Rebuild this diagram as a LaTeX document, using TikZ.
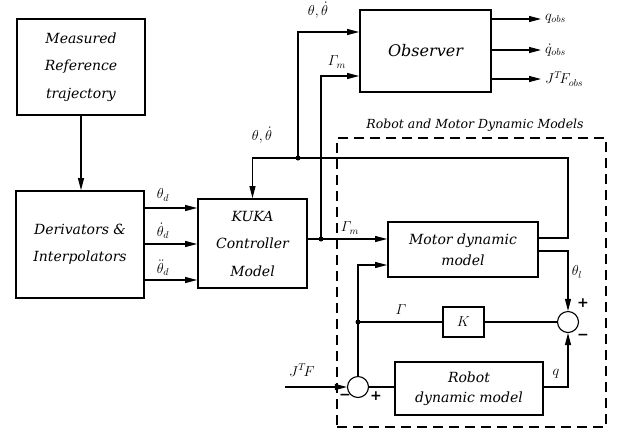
\documentclass[tikz,border=0pt]{standalone}
\usepackage{amsmath}
\usepackage{fontspec}
\setmainfont{DejaVu Serif}
\usetikzlibrary{arrows.meta,calc}
\begin{document}
\begin{tikzpicture}[x=1pt,y=-1pt,
 blk/.style={draw,line width=1.8pt,inner sep=0pt,align=center,font=\itshape\fontsize{14}{27.5}\selectfont},
 sig/.style={line width=1.1pt},
 arr/.style={sig,-{Triangle[length=12pt,width=6pt]}},
 sumc/.style={draw,circle,line width=1.1pt,minimum size=21pt,inner sep=0pt},
 jdot/.style={circle,fill,inner sep=0pt,minimum size=5pt},
 lbl/.style={font=\fontsize{14}{16}\selectfont,inner sep=1pt},
 sgn/.style={font=\bfseries\fontsize{14}{14}\selectfont,inner sep=0pt}]
\useasboundingbox (0,0) rectangle (618,432);

% blocks
\node[blk,minimum width=128pt,minimum height=96pt] (meas) at (81,67) {Measured\\Reference\\trajectory};
\node[blk,minimum width=128pt,minimum height=107pt] (deriv) at (80,244.5) {Derivators \&\\Interpolators};
\node[blk,minimum width=109pt,minimum height=89pt] (kuka) at (252.5,243.5) {KUKA\\Controller\\Model};
\node[blk,minimum width=131pt,minimum height=82pt,font=\itshape\fontsize{16}{20}\selectfont] (obs) at (425.5,51) {Observer};
\node[blk,minimum width=150pt,minimum height=55pt,font=\itshape\fontsize{14}{21}\selectfont] (motor) at (463,249.5) {Motor dynamic\\model};
\node[blk,minimum width=41pt,minimum height=30pt,line width=1.4pt,font=\fontsize{14}{16}\selectfont] (K) at (463.5,322) {$K$};
\node[blk,minimum width=148pt,minimum height=53pt,font=\itshape\fontsize{14}{20}\selectfont] (robot) at (469,388.5) {Robot\\dynamic model};
\node[sumc] (s2) at (568,322) {};
\node[sumc] (s1) at (358,387) {};
\node[draw,line width=1.8pt,dash pattern=on 10pt off 6pt,minimum width=269pt,minimum height=289pt,inner sep=0pt] (dyn) at (471.5,282.5) {};
\node[font=\itshape\fontsize{12.5}{14}\selectfont] (dynlbl) at (475,125) {Robot and Motor Dynamic Models};

% junctions
\node[jdot] (j1) at (321,239) {};
\node[jdot] (j2) at (298,158) {};
\node[jdot] (j3) at (358,322) {};

% coordinates on block sides
\path (kuka.west) ++(0,-35.5) coordinate (k1) ++(0,36) coordinate (k2) ++(0,36) coordinate (k3);
\coordinate (o1) at ($(obs.west)+(0,-19)$);
\coordinate (o2) at ($(obs.west)+(0,25)$);
\coordinate (m1) at ($(motor.east)+(0,-11.5)$);
\coordinate (m2) at ($(motor.east)+(0,1.5)$);
\coordinate (m3) at ($(motor.west)+(0,15.5)$);
\coordinate (q1) at (541,19);
\coordinate (q2) at (541,50);
\coordinate (q3) at (541,79);
\coordinate (jin) at (285,387);

% connectors
\draw[arr] (meas.south) -- (meas.south |- deriv.north);
\draw[arr] (deriv.east |- k1) -- (k1);
\draw[arr] (deriv.east |- k2) -- (k2);
\draw[arr] (deriv.east |- k3) -- (k3);
\draw[arr] (kuka.east |- j1) -- (motor.west |- j1);
\draw[arr] (j1.center) |- (o2);
\draw[arr] (j2.center) |- (o1);
\draw[sig] (m1) -| (s2 |- j2) -- (j2.center);
\draw[arr] (j2.center) -| (kuka.north);
\draw[arr] (m2) -| (s2.north);
\draw[sig] (s2.west) -- (K.east);
\draw[sig] (K.west) -- (j3.center);
\draw[arr] (j3.center) |- (m3);
\draw[sig] (s1.north) -- (j3.center);
\draw[sig] (robot.west |- s1) -- (s1.east);
\draw[arr] (robot.east |- s1) -| (s2.south);
\draw[arr] (jin) -- (s1.west);
\draw[arr] (obs.east |- q1) -- (q1);
\draw[arr] (obs.east |- q2) -- (q2);
\draw[arr] (obs.east |- q3) -- (q3);

% labels
\node[lbl,anchor=west] (lq1) at ($(q1)+(3,0)$) {$q_{obs}$};
\node[lbl,anchor=west] (lq2) at ($(q2)+(3,0)$) {$\dot q_{obs}$};
\node[lbl,anchor=west] (lq3) at ($(q3)+(3,0)$) {$J^{T}\!F_{obs}$};
\node[lbl] (lth1) at (163,195) {$\theta_d$};
\node[lbl] (lth2) at (163,231) {$\dot\theta_d$};
\node[lbl] (lth3) at (163,268) {$\ddot\theta_d$};
\node[lbl] (ltop) at (318,10) {$\theta,\dot\theta$};
\node[lbl] (lmid) at (262,135) {$\theta,\dot\theta$};
\node[lbl] (lgm1) at (337,62) {$\varGamma_m$};
\node[lbl] (lgm2) at (350,228) {$\varGamma_m$};
\node[lbl] (lthl) at (577,272) {$\theta_l$};
\node[lbl] (lg) at (401,310) {$\varGamma$};
\node[lbl] (lq) at (556,374) {$q$};
\node[lbl] (ljf) at (302,370) {$J^{T}\!F$};
\node[sgn] (p1) at (583,303) {+};
\node[sgn] (n1) at (583,337) {\char"2212};
\node[sgn] (n2) at (345,397) {\char"2212};
\node[sgn] (p2) at (376,396) {+};
\end{tikzpicture}
\end{document}
